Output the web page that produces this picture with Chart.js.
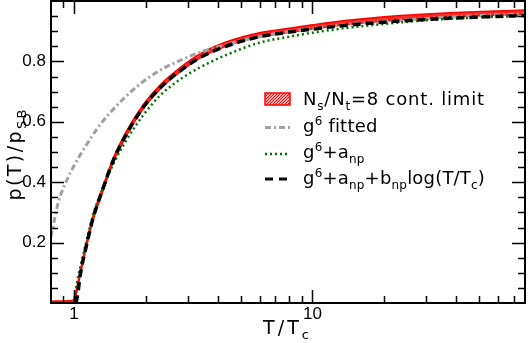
<!DOCTYPE html>
<html><head><meta charset="utf-8">
<script src="https://cdn.jsdelivr.net/npm/chart.js@4/dist/chart.umd.min.js"></script>
<style>html,body{margin:0;padding:0;background:#fff;} #wrap{width:529px;height:343px;position:relative;}</style>
</head><body><div id="wrap"><canvas id="c" width="529" height="343" style="width:529px;height:343px"></canvas></div>
<script>
// ---- data ----
const redT    = [0.8,0.9,0.98,1.0,1.03,1.06,1.13,1.2,1.33,1.46,1.66,1.95,2.3,2.78,3.37,4.37,6.0,8.0,10,14,20,30,40,55,78];
const redLow  = [0.0,0.001,0.002,0.005,0.042,0.089,0.189,0.272,0.377,0.466,0.555,0.643,0.709,0.765,0.811,0.851,0.881,0.896,0.907,0.922,0.934,0.943,0.948,0.952,0.956];
const redHigh = [0.006,0.007,0.008,0.015,0.058,0.105,0.205,0.288,0.393,0.48,0.569,0.657,0.723,0.779,0.825,0.865,0.895,0.910,0.921,0.936,0.948,0.957,0.962,0.966,0.970];

const grayT = [0.8,0.82,0.86,0.93,1.0,1.06,1.285,1.56,1.89,2.29,2.78,3.37,4.09,4.97,6.03,8,10,14,20,30,40,55,78];
const grayP = [0.22,0.262,0.335,0.405,0.455,0.49,0.59,0.665,0.725,0.77,0.803,0.83,0.85,0.868,0.882,0.899,0.909,0.922,0.933,0.942,0.948,0.953,0.957];

const greenT = [1.0,1.01,1.04,1.13,1.2,1.33,1.46,1.66,1.95,2.3,2.78,3.37,4.37,6.0,8,10,14,20,30,40,55,78];
const greenP = [0.0,0.03,0.086,0.208,0.29,0.385,0.46,0.54,0.622,0.688,0.74,0.78,0.822,0.862,0.882,0.895,0.911,0.924,0.936,0.942,0.947,0.951];

const blackT = [1.02,1.04,1.06,1.13,1.2,1.33,1.46,1.66,1.95,2.3,2.78,3.37,4.37,6,8,10,14,20,30,40,55,78];
const blackP = [0.0,0.04,0.09,0.195,0.28,0.385,0.472,0.56,0.648,0.713,0.768,0.812,0.851,0.882,0.897,0.907,0.92,0.93,0.939,0.944,0.948,0.952];

const xTickValues = [0.9,1,2,3,4,5,6,7,8,9,10,20,30,40,50,60,70];
const xMajor = [1,10];
const yTickValues = [0.05,0.1,0.15,0.2,0.25,0.3,0.35,0.4,0.45,0.5,0.55,0.6,0.65,0.7,0.75,0.8,0.85,0.9,0.95];
const yMajor = [0.2,0.4,0.6,0.8];

const pts = (T,P) => T.map((t,i)=>({x:t,y:P[i]}));
const base = {pointRadius:0, cubicInterpolationMode:'monotone', borderCapStyle:'butt'};

const TICKFONT = {family:'"Liberation Sans", Arial, sans-serif', size:17};
const TXT = '"DejaVu Sans", sans-serif';

// draws text with sub/superscripts, char by char with extra spacing
function drawRich(ctx, parts, x, y, size, align, sp){
  sp = sp || 0;
  const small = Math.round(size*0.66);
  const glyphs = [];
  parts.forEach(([t,m])=>{ for(const ch of t) glyphs.push([ch,m]); });
  let w = 0;
  const widths = glyphs.map(([ch,m])=>{ctx.font = (m? small: size)+'px '+TXT; const ww = ctx.measureText(ch).width + sp; w+=ww; return ww;});
  w -= sp;
  let cx = align==='center' ? x - w/2 : x;
  glyphs.forEach(([ch,m],i)=>{
    ctx.font = (m? small: size)+'px '+TXT;
    const dy = m===1 ? -size*0.38 : (m===-1 ? size*0.28 : 0);
    ctx.fillText(ch, cx, y+dy);
    cx += widths[i];
  });
}

const decor = {
  id:'decor',
  afterDraw(chart){
    const ctx = chart.ctx, a = chart.chartArea;
    const xs = chart.scales.x, ys = chart.scales.y;
    ctx.save();
    ctx.strokeStyle = '#000'; ctx.fillStyle = '#000';
    ctx.lineWidth = 1.5;
    ctx.beginPath();
    xTickValues.forEach(v=>{
      const px = Math.round(xs.getPixelForValue(v))+0.5;
      const L = xMajor.includes(v) ? 13 : 7;
      ctx.moveTo(px, a.bottom); ctx.lineTo(px, a.bottom-L);
      ctx.moveTo(px, a.top); ctx.lineTo(px, a.top+L);
    });
    yTickValues.forEach(v=>{
      const py = Math.round(ys.getPixelForValue(v))+0.5;
      const L = yMajor.some(m=>Math.abs(m-v)<1e-9) ? 13 : 7;
      ctx.moveTo(a.left, py); ctx.lineTo(a.left+L, py);
      ctx.moveTo(a.right, py); ctx.lineTo(a.right-L, py);
    });
    ctx.stroke();
    ctx.lineWidth = 2;
    ctx.strokeRect(a.left, a.top, a.right-a.left, a.bottom-a.top);

    // legend
    const lx0 = 265, lx1 = 290, tx = 303;
    ctx.save();
    ctx.fillStyle = '#ffb0b0';
    ctx.fillRect(lx0, 93, lx1-lx0, 12);
    ctx.beginPath(); ctx.rect(lx0, 93, lx1-lx0, 12); ctx.clip();
    ctx.strokeStyle = '#ff0000'; ctx.lineWidth = 1;
    ctx.beginPath();
    for(let k=-14;k<30;k+=3){ ctx.moveTo(lx0+k, 105); ctx.lineTo(lx0+k+12, 93); }
    ctx.stroke();
    ctx.restore();
    ctx.strokeStyle = '#ff0000'; ctx.lineWidth = 1.5;
    ctx.strokeRect(lx0, 93, lx1-lx0, 12);
    const sample = (y, color, dash, w) => {
      ctx.save(); ctx.strokeStyle = color; ctx.lineWidth = w; ctx.setLineDash(dash);
      ctx.beginPath(); ctx.moveTo(lx0, y); ctx.lineTo(lx1, y); ctx.stroke(); ctx.restore();
    };
    sample(127.5, '#a0a0a0', [6,3,2,3], 3);
    sample(154, '#007000', [2,3], 2.5);
    sample(179, '#000000', [8,6], 3);
    ctx.fillStyle = '#000'; ctx.textBaseline = 'alphabetic';
    drawRich(ctx, [['N',0],['s',-1],['/N',0],['t',-1],['=8 cont. limit',0]], tx, 105, 18, 'left', 0.8);
    drawRich(ctx, [['g',0],['6',1],[' fitted',0]], tx, 131.5, 18, 'left', 0.2);
    drawRich(ctx, [['g',0],['6',1],['+a',0],['np',-1]], tx, 158, 18, 'left', 0.2);
    drawRich(ctx, [['g',0],['6',1],['+a',0],['np',-1],['+b',0],['np',-1],['log(T/T',0],['c',-1],[')',0]], tx, 183.5, 18, 'left', 0.2);

    drawRich(ctx, [['T/T',0],['c',-1]], 286, 334, 19, 'center', 3);
    ctx.save();
    ctx.translate(21, 155);
    ctx.rotate(-Math.PI/2);
    drawRich(ctx, [['p(T)/p',0],['SB',-1]], 0, 0, 19, 'center', 2.4);
    ctx.restore();
    ctx.restore();
  }
};

new Chart(document.getElementById('c'), {
  type:'line',
  data:{datasets:[
    {...base, label:'black', data:pts(blackT,blackP), borderColor:'#000', borderWidth:3.5, borderDash:[8,5], order:0, fill:false},
    {...base, label:'green', data:pts(greenT,greenP), borderColor:'#007000', borderWidth:2.5, borderDash:[2,3], order:1, fill:false},
    {...base, label:'gray', data:pts(grayT,grayP), borderColor:'#a0a0a0', borderWidth:3, borderDash:[6,3,2,3], order:2, fill:false},
    {...base, label:'redLow', data:pts(redT,redLow), borderColor:'#ff0000', borderWidth:1.5, order:4, fill:false},
    {...base, label:'redHigh', data:pts(redT,redHigh), borderColor:'#ff0000', borderWidth:1.5, order:3, fill:'-1', backgroundColor:'rgba(255,20,20,0.9)'}
  ]},
  options:{
    responsive:false, animation:false, devicePixelRatio:1,
    layout:{padding:{top:1,right:4,left:0,bottom:0}},
    plugins:{legend:{display:false}, tooltip:{enabled:false}},
    scales:{
      x:{type:'logarithmic', min:0.8, max:78,
         grid:{display:false, drawTicks:false}, border:{display:false},
         afterBuildTicks: s => { s.ticks = xTickValues.map(v=>({value:v})); },
         afterFit: s => { s.height = 40; s.paddingLeft = 0; s.paddingRight = 0; },
         ticks:{autoSkip:false, maxRotation:0, minRotation:0, padding:1, color:'#000', font:TICKFONT,
                callback: v => xMajor.includes(v) ? String(v) : ''}},
      y:{type:'linear', min:0, max:1,
         grid:{display:false, drawTicks:false}, border:{display:false},
         afterBuildTicks: s => { s.ticks = yTickValues.map(v=>({value:v})); },
         afterFit: s => { s.width = 51; s.paddingTop = 0; s.paddingBottom = 0; },
         ticks:{autoSkip:false, padding:5, color:'#000', font:TICKFONT,
                callback: v => yMajor.some(m=>Math.abs(m-v)<1e-9) ? v.toFixed(1) : ''}}
    }
  },
  plugins:[decor]
});
</script></body></html>
